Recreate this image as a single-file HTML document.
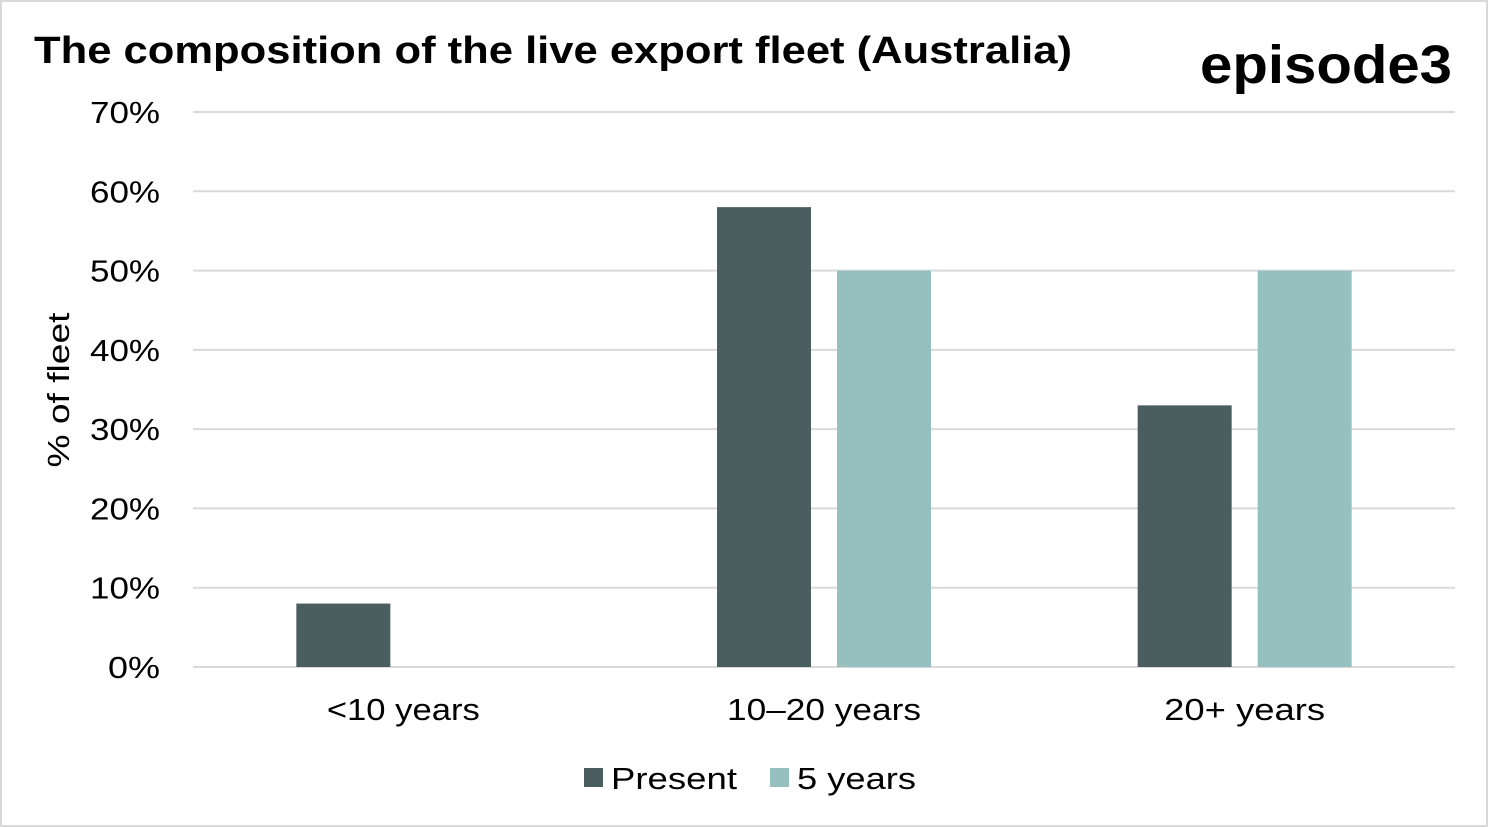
<!DOCTYPE html>
<html><head><meta charset="utf-8"><style>
html,body{margin:0;padding:0;background:#fff}
svg{display:block}
text{font-family:"Liberation Sans",sans-serif}
</style></head><body>
<svg id="chart" width="1488" height="827" xmlns="http://www.w3.org/2000/svg">
<rect x="1" y="1" width="1486" height="825" fill="#fff" stroke="#d9d9d9" stroke-width="2"/>
<text x="34" y="63" font-size="38" font-weight="bold" fill="#000" textLength="1038" lengthAdjust="spacingAndGlyphs">The composition of the live export fleet (Australia)</text>
<text x="1200" y="83" font-size="54" font-weight="bold" fill="#000" textLength="252" lengthAdjust="spacingAndGlyphs">episode3</text>
<text transform="translate(69,390) rotate(-90)" font-size="31" fill="#000" text-anchor="middle" textLength="155" lengthAdjust="spacingAndGlyphs">% of fleet</text>
<g id="grid"></g><g id="bars"></g><g id="xlabels"></g>
<rect x="584" y="768" width="19" height="19" fill="#4a5e60"/>
<text x="611" y="789" font-size="31" fill="#000" textLength="126" lengthAdjust="spacingAndGlyphs">Present</text>
<rect x="770" y="768" width="19" height="19" fill="#95c0bf"/>
<text x="797" y="789" font-size="31" fill="#000" textLength="119" lengthAdjust="spacingAndGlyphs">5 years</text>
</svg>
<script>
const categories = ["<10 years", "10\u201320 years", "20+ years"];
const presentValues = [8, 58, 33];
const fiveYearValues = [0, 50, 50];
const yTicks = [0, 10, 20, 30, 40, 50, 60, 70];
const NS = "http://www.w3.org/2000/svg";
const left = 193, right = 1455, y0 = 667, yTop = 112, yMax = 70;
const yScale = v => y0 - (v / yMax) * (y0 - yTop);
const band = (right - left) / categories.length;
const xCenter = i => left + band * (i + 0.5);
const barW = 94, gap = 26;
function mk(tag, attrs){const e=document.createElementNS(NS,tag);for(const k in attrs)e.setAttribute(k,attrs[k]);return e;}
const grid = document.getElementById('grid');
yTicks.forEach(t => {
  const l = mk('line',{x1:left,x2:right,y1:yScale(t),y2:yScale(t),stroke:'#d9d9d9','stroke-width':2});
  
  
  grid.appendChild(l);
  const label = t + '%';
  const tx = mk('text',{x:160,y:yScale(t)+11,'font-size':31,'text-anchor':'end',fill:'#000',textLength:label.length===2?52:70,lengthAdjust:'spacingAndGlyphs'});
  tx.textContent = label;
  
  
  grid.appendChild(tx);
});
const bars = document.getElementById('bars');
const xl = document.getElementById('xlabels');
const labelW = [153, 194, 161];
categories.forEach((c, i) => {
  const cx = xCenter(i);
  const p = presentValues[i], f = fiveYearValues[i];
  const r1 = mk('rect',{x:cx-gap/2-barW,y:yScale(p),width:barW,height:y0-yScale(p),fill:'#4a5e60'});
  
  
  bars.appendChild(r1);
  const r2 = mk('rect',{x:cx+gap/2,y:yScale(f),width:barW,height:y0-yScale(f),fill:'#95c0bf'});
  
  
  bars.appendChild(r2);
  const t = mk('text',{x:cx,y:720,'font-size':31,'text-anchor':'middle',fill:'#000',textLength:labelW[i],lengthAdjust:'spacingAndGlyphs'});
  t.textContent = c;
  
  
  xl.appendChild(t);
});
</script>
</body></html>
